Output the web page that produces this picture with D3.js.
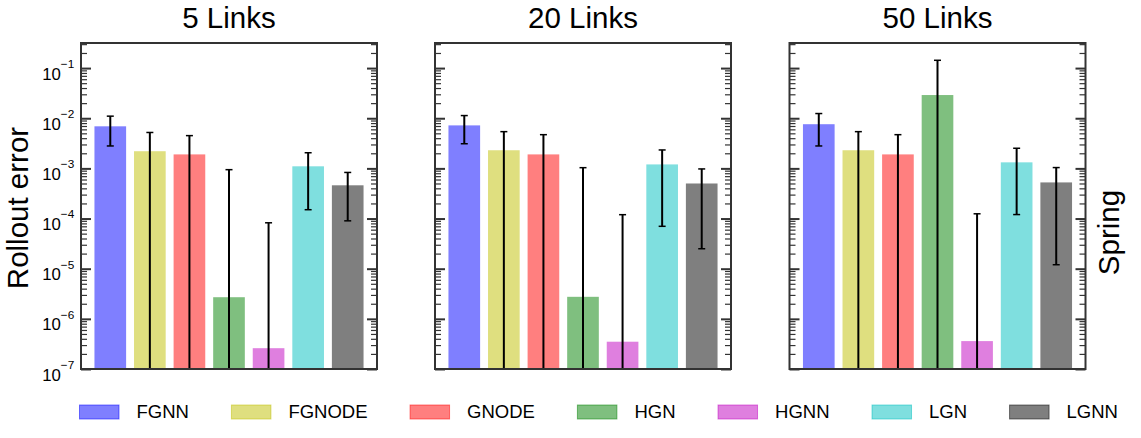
<!DOCTYPE html>
<html>
<head>
<meta charset="utf-8">
<script src="https://cdn.jsdelivr.net/npm/d3@7"></script>
<style>
  body { margin: 0; background: #fff; }
  text { font-family: "Liberation Sans", Arial, sans-serif; fill: #000; }
</style>
</head>
<body>
<div id="chart"></div>
<script>
const models = ["FGNN", "FGNODE", "GNODE", "HGN", "HGNN", "LGN", "LGNN"];
const panelTitles = ["5 Links", "20 Links", "50 Links"];
const colors = ["#0000ff", "#bfbf00", "#ff0000", "#008000", "#bf00bf", "#00bfbf", "#000000"];

// mean rollout error and its spread, per model
const values5 = [6.9e-3, 2.2e-3, 1.9e-3, 2.7e-6, 2.6e-7, 1.1e-3, 4.6e-4];
const err5 = [4.1e-3, 3.0e-3, 2.6e-3, 9.4e-4, 8.2e-5, 9.5e-4, 3.7e-4];
const values20 = [7.2e-3, 2.3e-3, 1.9e-3, 2.75e-6, 3.5e-7, 1.2e-3, 5.0e-4];
const err20 = [4.1e-3, 3.1e-3, 2.8e-3, 1.03e-3, 1.19e-4, 1.13e-3, 4.75e-4];
const values50 = [7.6e-3, 2.3e-3, 1.9e-3, 2.9e-2, 3.6e-7, 1.32e-3, 5.25e-4];
const err50 = [4.8e-3, 3.1e-3, 2.8e-3, 1.14e-1, 1.24e-4, 1.2e-3, 5.13e-4];

const tickExponents = [-7, -6, -5, -4, -3, -2, -1];

const panels = [
  { title: panelTitles[0], values: values5, err: err5 },
  { title: panelTitles[1], values: values20, err: err20 },
  { title: panelTitles[2], values: values50, err: err50 },
];

const width = 1141, height = 438;
const panelX = [81, 435, 789.5];
const pw = 296, ph = 326, plotTop = 43;
const spine = "#333";

var svg = d3.select("#chart").append("svg")
  .attr("width", width)
  .attr("height", height);

const y = d3.scaleLog().domain([1e-7, Math.pow(10, -0.5)]).range([ph, 0]);
const x = d3.scaleLinear().domain([-0.74, models.length - 1 + 0.74]).range([0, pw]);

const majorTicks = tickExponents.map((e) => Math.pow(10, e));
const minorTicks = [];
tickExponents.forEach((e) => {
  for (let m = 2; m <= 9; m++) {
    const v = m * Math.pow(10, e);
    if (v <= y.domain()[1]) minorTicks.push(v);
  }
});

panels.forEach((p, pi) => {
  const g = svg.append("g").attr("transform", `translate(${panelX[pi]},${plotTop})`);

  // bars
  g.selectAll("rect.bar")
    .data(p.values)
    .join("rect")
    .attr("class", "bar")
    .attr("x", (d, i) => x(i - 0.4))
    .attr("width", x(0.4) - x(-0.4))
    .attr("y", (d) => y(d))
    .attr("height", (d) => ph - y(d))
    .attr("fill", (d, i) => colors[i])
    .attr("fill-opacity", 0.5);

  // error bars (lower end clipped to the axis when it goes below zero)
  p.values.forEach((v, i) => {
    const hi = v + p.err[i];
    const lo = v - p.err[i];
    const cx = x(i);
    const yHi = y(hi);
    const yLo = lo > 0 ? y(lo) : ph;
    g.append("line")
      .attr("x1", cx).attr("x2", cx)
      .attr("y1", yHi).attr("y2", yLo)
      .attr("stroke", "#000")
      .attr("stroke-width", 2);
    g.append("line")
      .attr("x1", cx - 3.5).attr("x2", cx + 3.5)
      .attr("y1", yHi).attr("y2", yHi)
      .attr("stroke", "#000")
      .attr("stroke-width", 1.5);
    if (lo > 0) {
      g.append("line")
        .attr("x1", cx - 3.5).attr("x2", cx + 3.5)
        .attr("y1", yLo).attr("y2", yLo)
        .attr("stroke", "#000")
        .attr("stroke-width", 1.5);
    }
  });

  // inward ticks, left and right
  const leftMinor = g.append("g").call(
    d3.axisLeft(y).tickValues(minorTicks).tickSize(-6).tickSizeOuter(0).tickFormat(() => "")
  );
  const rightMinor = g.append("g").attr("transform", `translate(${pw},0)`).call(
    d3.axisRight(y).tickValues(minorTicks).tickSize(-6).tickSizeOuter(0).tickFormat(() => "")
  );
  const leftMajor = g.append("g").call(
    d3.axisLeft(y).tickValues(majorTicks).tickSize(-10).tickSizeOuter(0).tickPadding(6.7)
      .tickFormat((d) => (pi === 0 ? "10" : ""))
  );
  const rightMajor = g.append("g").attr("transform", `translate(${pw},0)`).call(
    d3.axisRight(y).tickValues(majorTicks).tickSize(-10).tickSizeOuter(0).tickFormat(() => "")
  );

  [leftMinor, rightMinor].forEach((a) => {
    a.select(".domain").remove();
    a.selectAll("line").attr("stroke", spine).attr("stroke-width", 1.2);
  });
  [leftMajor, rightMajor].forEach((a) => {
    a.select(".domain").remove();
    a.selectAll("line").attr("stroke", spine).attr("stroke-width", 2);
  });

  if (pi === 0) {
    leftMajor.selectAll(".tick text").each(function (d) {
      const t = d3.select(this);
      const e = Math.round(Math.log10(d));
      t.text(null)
        .attr("dy", null)
        .attr("y", 11)
        .attr("font-size", "16.8px")
        .attr("fill", "#000");
      t.append("tspan").text("10");
      t.append("tspan")
        .attr("dy", -11.7)
        .attr("font-size", "11.8px")
        .text("\u2212" + Math.abs(e));
    });
  }

  // frame
  g.append("rect")
    .attr("width", pw)
    .attr("height", ph)
    .attr("fill", "none")
    .attr("stroke", spine)
    .attr("stroke-width", 2);

  // title
  svg.append("text")
    .attr("x", panelX[pi] + pw / 2)
    .attr("y", 28.3)
    .attr("text-anchor", "middle")
    .attr("font-size", "29.5px")
    .text(p.title);
});

// axis labels
svg.append("text")
  .attr("transform", "translate(28,208) rotate(-90)")
  .attr("text-anchor", "middle")
  .attr("font-size", "29.5px")
  .text("Rollout error");

svg.append("text")
  .attr("transform", "translate(1118.5,232.5) rotate(-90)")
  .attr("text-anchor", "middle")
  .attr("font-size", "29.5px")
  .text("Spring");

// legend
const legend = svg.append("g");
let lx = 79;
models.forEach((m, i) => {
  legend.append("rect")
    .attr("x", lx + 0.5)
    .attr("y", 405)
    .attr("width", 39.5)
    .attr("height", 14)
    .attr("fill", colors[i])
    .attr("fill-opacity", 0.5)
    .attr("stroke", colors[i])
    .attr("stroke-opacity", 0.5)
    .attr("stroke-width", 1);
  const t = legend.append("text")
    .attr("x", lx + 57.5)
    .attr("y", 418.3)
    .attr("font-size", "18.5px")
    .text(m);
  lx = lx + 57.5 + t.node().getComputedTextLength() + 42;
});
</script>
</body>
</html>
